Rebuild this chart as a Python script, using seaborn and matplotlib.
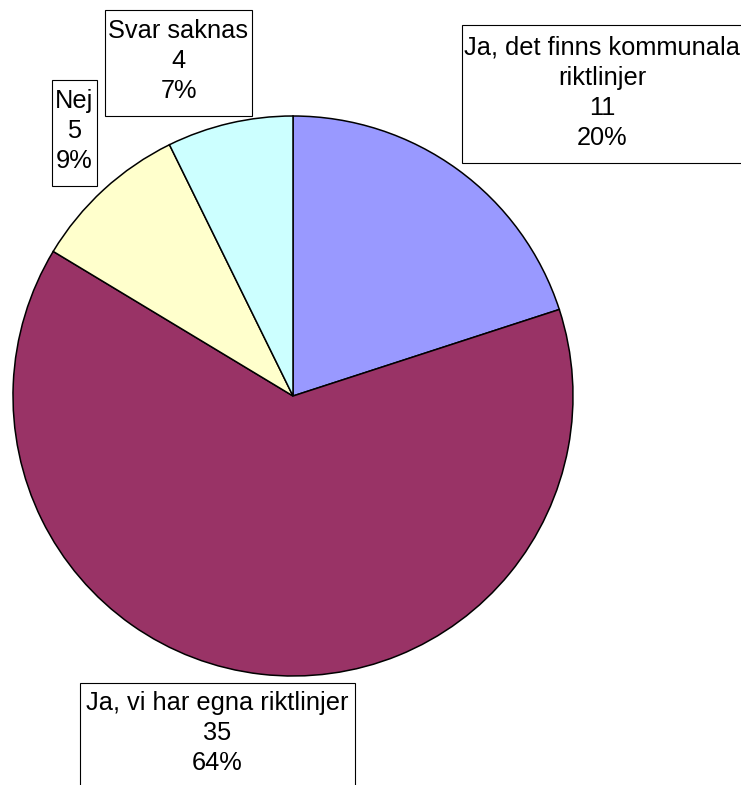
import matplotlib.pyplot as plt
from matplotlib.patches import Rectangle
import seaborn as sns

labels = ["Ja, det finns kommunala\nriktlinjer", "Ja, vi har egna riktlinjer", "Nej", "Svar saknas"]
counts = [11, 35, 5, 4]
colors = ["#9999FF", "#993366", "#FFFFCC", "#CCFFFF"]

W, H = 741, 785
# label boxes in pixels from the top-left: (x0, y0, x1, y1), and text centre y
label_box = [(462, 25, 742, 163), (80, 683, 355, 800), (52, 80, 97, 186), (105, 10, 252, 116)]
label_cy = [93, 733, 131, 61]

sns.set_style("white")
plt.rcParams["font.family"] = ["Liberation Sans", "DejaVu Sans"]

fig = plt.figure(figsize=(W / 100, H / 100), dpi=100)
ax = fig.add_axes([0, 0, 1, 1])
ax.pie(
    counts,
    colors=colors,
    startangle=90,
    counterclock=False,
    center=(293, H - 396),
    radius=280,
    wedgeprops={"edgecolor": "black", "linewidth": 1.1},
)
ax.set_xlim(0, W)
ax.set_ylim(0, H)
ax.set_aspect("equal")
ax.axis("off")

total = sum(counts)
for lab, n, (x0, y0, x1, y1), cy in zip(labels, counts, label_box, label_cy):
    ax.add_patch(Rectangle((x0, H - y1), x1 - x0, y1 - y0, facecolor="white",
                           edgecolor="black", linewidth=0.8, clip_on=False))
    ax.text(
        (x0 + x1) / 2, H - cy,
        f"{lab}\n{n}\n{round(100 * n / total)}%",
        ha="center", va="center", fontsize=18.3, linespacing=1.33, color="black",
    )

fig.savefig("out.png", dpi=100)
